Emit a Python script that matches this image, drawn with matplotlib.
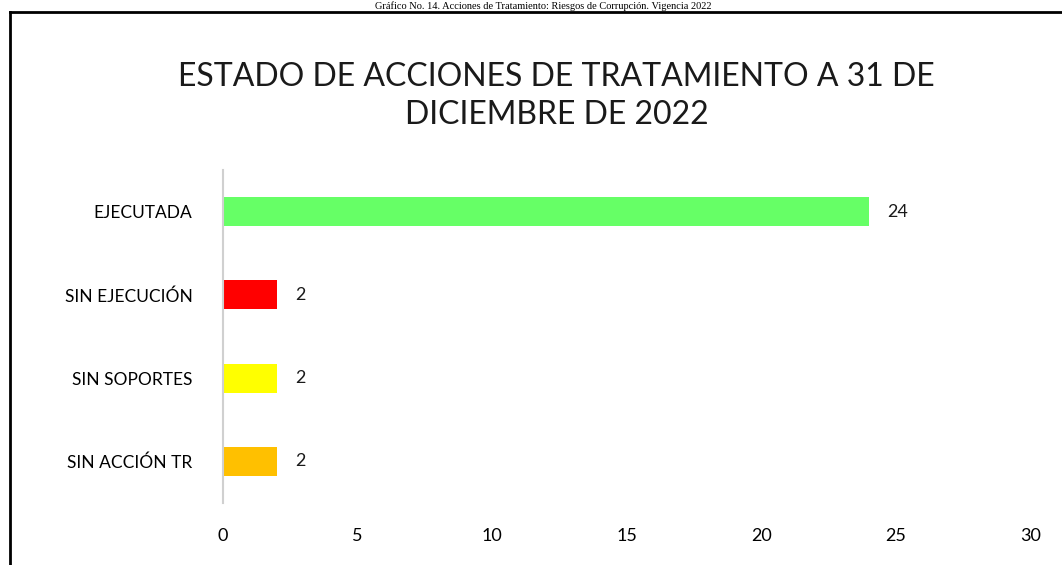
import matplotlib.pyplot as plt
from matplotlib.lines import Line2D

categorias = ['EJECUTADA', 'SIN EJECUCIÓN', 'SIN SOPORTES', 'SIN ACCIÓN TR']
valores = [24, 2, 2, 2]
colores = ['#66FF66', '#FF0000', '#FFFF00', '#FFC000']
titulo = 'ESTADO DE ACCIONES DE TRATAMIENTO A 31 DE\nDICIEMBRE DE 2022'
leyenda = 'Gráfico No. 14. Acciones de Tratamiento: Riesgos de Corrupción. Vigencia 2022'

plt.rcParams['font.family'] = ['Lato', 'DejaVu Sans']


def main():
    fig = plt.figure(figsize=(10.62, 5.65), dpi=100)
    ax = fig.add_axes([0.21, 0.1097, 0.76, 0.5893])

    pos = list(range(len(categorias)))
    ax.barh(pos, valores, color=colores, height=0.35)
    for p, v in zip(pos, valores):
        ax.text(v + 0.7, p, str(v), va='center', ha='left', fontsize=13, color='#1a1a1a')

    ax.set_yticks(pos)
    ax.set_yticklabels(categorias, fontsize=12.5)
    ax.set_ylim(len(categorias) - 0.5, -0.5)
    ax.set_xlim(0, 30)
    ax.set_xticks([0, 5, 10, 15, 20, 25, 30])
    ax.tick_params(axis='x', labelsize=13, length=0, pad=18)
    ax.tick_params(axis='y', length=0, pad=22)

    for s in ['top', 'right', 'bottom']:
        ax.spines[s].set_visible(False)
    ax.spines['left'].set_color('#d0d0d0')
    ax.spines['left'].set_linewidth(1.5)

    fig.text(0.524, 0.83, titulo, ha='center', va='center', fontsize=23,
             linespacing=1.3, color='#1a1a1a')

    # marco exterior
    top = 1 - 12 / 565
    fig.add_artist(Line2D([10 / 1062, 10 / 1062], [0, top], color='black', lw=2))
    fig.add_artist(Line2D([10 / 1062, 1], [top, top], color='black', lw=2))

    # leyenda del documento
    fig.text(0.512, 1.0 - 1 / 565, leyenda, ha='center', va='top', fontsize=7.5,
             family='Liberation Serif')

    fig.savefig('out.png', dpi=100)


if __name__ == '__main__':
    main()
